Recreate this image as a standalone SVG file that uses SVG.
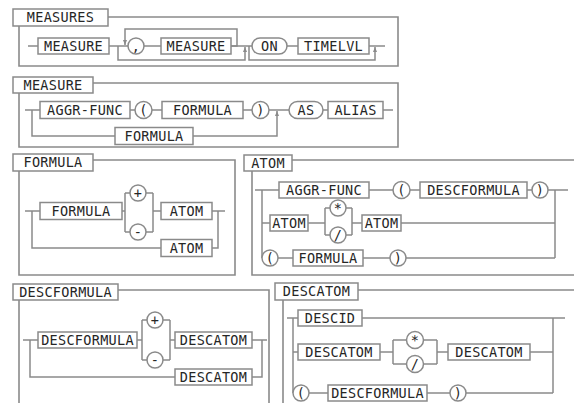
<svg xmlns="http://www.w3.org/2000/svg" width="574" height="403" viewBox="0 0 574 403">
<style>
.b{fill:#fff;stroke:#8a8a8a;stroke-width:1.5}
.t{font-family:"DejaVu Sans Mono","Liberation Mono",monospace;font-size:13.5px;letter-spacing:0.3px;fill:#262626;text-anchor:middle}
.l{fill:none;stroke:#8a8a8a;stroke-width:1.5}
.f{fill:none;stroke:#8a8a8a;stroke-width:1.6}
</style>
<defs>
<marker id="ar" viewBox="0 0 10 10" refX="10" refY="5" markerWidth="5" markerHeight="5" markerUnits="userSpaceOnUse" orient="auto">
<path d="M0,1 L10,5 L0,9 z" fill="#8a8a8a"/>
</marker>
</defs>
<rect width="574" height="403" fill="#fff"/>

<g id="frames">
<path class="f" d="M108,17 H398 V66 H19 V26"/>
<path class="f" d="M93,83 H398 V147 H19 V93"/>
<path class="f" d="M93,160 H235 V275 H19 V171"/>
<path class="f" d="M292,160 H574 M252,171 V275 H574"/>
<path class="f" d="M118,290 H269 V403 M19,300 V403"/>
<path class="f" d="M358,290 H574 M283,300 V403"/>
</g>

<g id="connectors">
<!-- MEASURES -->
<path class="l" d="M28,46 H38 M109,46 H128 M144,46 H161 M231,46 H252 M287,46 H298 M369,46 H385"/>
<path class="l" d="M118,46 V60 H245 V47" marker-end="url(#ar)"/>
<path class="l" d="M231,46 H237 V29 H125 V45" marker-end="url(#ar)"/>
<path class="l" d="M249,46 V60 H375 V47" marker-end="url(#ar)"/>
<!-- MEASURE -->
<path class="l" d="M25,110 H40 M130,110 H135 M152,110 H162 M243,110 H252 M269,110 H289 M323,110 H328 M383,110 H393"/>
<path class="l" d="M32,110 V136 H115 M193,136 H277 V111" marker-end="url(#ar)"/>
<!-- FORMULA -->
<path class="l" d="M25,211 H40 M122,211 H125 M125,193 V232 M125,193 H130 M146,193 H153 M125,232 H130 M146,232 H153 M153,193 V232 M153,211 H161 M212,211 H225 M218,211 V248 H212 M32,211 V248 H161"/>
<!-- ATOM -->
<path class="l" d="M255,190 H279 M369,190 H393 M410,190 H420 M527,190 H532 M548,190 H568 M555,190 V258 M262,190 V258 M262,223 H272 M308,223 H325 M325,208 V235 M325,208 H330 M346,208 H352 M325,235 H330 M346,235 H352 M352,208 V235 M352,223 H363 M400,223 H555 M278,258 H293 M363,258 H390 M406,258 H555"/>
<!-- DESCFORMULA -->
<path class="l" d="M23,340 H38 M137,340 H142 M142,320 V360 M142,320 H147 M163,320 H170 M142,360 H147 M163,360 H170 M170,320 V360 M170,340 H175 M252,340 H267 M262,340 V377 H252 M30,340 V377 H175"/>
<!-- DESCATOM -->
<path class="l" d="M287,318 H298 M362,318 H565 M553,318 V393 M293,318 V393 M293,352 H298 M380,352 H393 M393,340 V364 M393,340 H406.5 M423.5,340 H437 M393,364 H406.5 M423.5,364 H437 M437,340 V364 M437,352 H448 M530,352 H553 M309,393 H328 M427,393 H450 M466,393 H553"/>
</g>

<!-- MEASURES section -->
<g id="title-measures"><rect class="b" x="13" y="9" width="95" height="17"/><text class="t" x="60.5" y="22.3">MEASURES</text></g>
<g id="measures-measure1"><rect class="b" x="38" y="38" width="71" height="16"/><text class="t" x="73.5" y="50.8">MEASURE</text></g>
<g id="measures-comma"><circle class="b" cx="136" cy="46" r="8"/><text class="t" x="136" y="50.8">,</text></g>
<g id="measures-measure2"><rect class="b" x="161" y="38" width="70" height="16"/><text class="t" x="196" y="50.8">MEASURE</text></g>
<g id="measures-on"><rect class="b" x="252" y="38" width="35" height="16" rx="8"/><text class="t" x="269.5" y="50.8">ON</text></g>
<g id="measures-timelvl"><rect class="b" x="298" y="38" width="71" height="16"/><text class="t" x="333.5" y="50.8">TIMELVL</text></g>

<!-- MEASURE section -->
<g id="title-measure"><rect class="b" x="13" y="77" width="80" height="16"/><text class="t" x="53" y="89.8">MEASURE</text></g>
<g id="measure-aggr"><rect class="b" x="40" y="101.5" width="90" height="17"/><text class="t" x="85" y="114.8">AGGR-FUNC</text></g>
<g id="measure-lparen"><circle class="b" cx="143.5" cy="110" r="8.5"/><text class="t" x="143.5" y="114.8">(</text></g>
<g id="measure-formula1"><rect class="b" x="162" y="101.5" width="81" height="17"/><text class="t" x="202.5" y="114.8">FORMULA</text></g>
<g id="measure-rparen"><circle class="b" cx="260.5" cy="110" r="8.5"/><text class="t" x="260.5" y="114.8">)</text></g>
<g id="measure-formula2"><rect class="b" x="115" y="127.5" width="78" height="17"/><text class="t" x="154" y="140.8">FORMULA</text></g>
<g id="measure-as"><rect class="b" x="289" y="101.5" width="34" height="17" rx="8.5"/><text class="t" x="306" y="114.8">AS</text></g>
<g id="measure-alias"><rect class="b" x="328" y="101.5" width="55" height="17"/><text class="t" x="355.5" y="114.8">ALIAS</text></g>

<!-- FORMULA section -->
<g id="title-formula"><rect class="b" x="13" y="154" width="80" height="17"/><text class="t" x="53" y="167.3">FORMULA</text></g>
<g id="formula-formula"><rect class="b" x="40" y="202.5" width="82" height="17"/><text class="t" x="81" y="215.8">FORMULA</text></g>
<g id="formula-plus"><circle class="b" cx="138" cy="193" r="8"/><text class="t" x="138" y="197.8">+</text></g>
<g id="formula-minus"><circle class="b" cx="138" cy="232" r="8"/><text class="t" x="138" y="236.8">-</text></g>
<g id="formula-atom1"><rect class="b" x="161" y="202.5" width="51" height="17"/><text class="t" x="186.5" y="215.8">ATOM</text></g>
<g id="formula-atom2"><rect class="b" x="161" y="239.5" width="51" height="17"/><text class="t" x="186.5" y="252.8">ATOM</text></g>

<!-- ATOM section -->
<g id="title-atom"><rect class="b" x="244" y="155" width="48" height="16"/><text class="t" x="268" y="167.8">ATOM</text></g>
<g id="atom-aggr"><rect class="b" x="279" y="182" width="90" height="16"/><text class="t" x="324" y="194.8">AGGR-FUNC</text></g>
<g id="atom-lparen1"><circle class="b" cx="401.5" cy="190" r="8.5"/><text class="t" x="401.5" y="194.8">(</text></g>
<g id="atom-descformula"><rect class="b" x="420" y="182" width="107" height="16"/><text class="t" x="473.5" y="194.8">DESCFORMULA</text></g>
<g id="atom-rparen1"><circle class="b" cx="540" cy="190" r="8"/><text class="t" x="540" y="194.8">)</text></g>
<g id="atom-atom1"><rect class="b" x="270" y="215" width="38" height="16"/><text class="t" x="289" y="227.8">ATOM</text></g>
<g id="atom-star"><circle class="b" cx="338" cy="208" r="8"/><text class="t" x="338" y="212.8">*</text></g>
<g id="atom-slash"><circle class="b" cx="338" cy="235" r="8"/><text class="t" x="338" y="239.8">/</text></g>
<g id="atom-atom2"><rect class="b" x="362" y="215" width="39" height="16"/><text class="t" x="381.5" y="227.8">ATOM</text></g>
<g id="atom-lparen2"><circle class="b" cx="270" cy="258" r="8"/><text class="t" x="270" y="262.8">(</text></g>
<g id="atom-formula"><rect class="b" x="293" y="250" width="70" height="16"/><text class="t" x="328" y="262.8">FORMULA</text></g>
<g id="atom-rparen2"><circle class="b" cx="398" cy="258" r="8"/><text class="t" x="398" y="262.8">)</text></g>

<!-- DESCFORMULA section -->
<g id="title-descformula"><rect class="b" x="13" y="284" width="105" height="16"/><text class="t" x="65.5" y="296.8">DESCFORMULA</text></g>
<g id="descformula-descformula"><rect class="b" x="38" y="332" width="99" height="16"/><text class="t" x="87.5" y="344.8">DESCFORMULA</text></g>
<g id="descformula-plus"><circle class="b" cx="155" cy="320" r="8"/><text class="t" x="155" y="324.8">+</text></g>
<g id="descformula-minus"><circle class="b" cx="155" cy="360" r="8"/><text class="t" x="155" y="364.8">-</text></g>
<g id="descformula-descatom1"><rect class="b" x="175" y="332" width="77" height="16"/><text class="t" x="213.5" y="344.8">DESCATOM</text></g>
<g id="descformula-descatom2"><rect class="b" x="175" y="369" width="77" height="16"/><text class="t" x="213.5" y="381.8">DESCATOM</text></g>

<!-- DESCATOM section -->
<g id="title-descatom"><rect class="b" x="275" y="283" width="83" height="17"/><text class="t" x="316.5" y="296.3">DESCATOM</text></g>
<g id="descatom-descid"><rect class="b" x="298" y="310" width="64" height="16"/><text class="t" x="330" y="322.8">DESCID</text></g>
<g id="descatom-descatom1"><rect class="b" x="298" y="344" width="82" height="16"/><text class="t" x="339" y="356.8">DESCATOM</text></g>
<g id="descatom-star"><circle class="b" cx="415" cy="340" r="8.5"/><text class="t" x="415" y="344.8">*</text></g>
<g id="descatom-slash"><circle class="b" cx="415" cy="364" r="8.5"/><text class="t" x="415" y="368.8">/</text></g>
<g id="descatom-descatom2"><rect class="b" x="448" y="344" width="82" height="16"/><text class="t" x="489" y="356.8">DESCATOM</text></g>
<g id="descatom-lparen"><circle class="b" cx="301" cy="393" r="8"/><text class="t" x="301" y="397.8">(</text></g>
<g id="descatom-descformula"><rect class="b" x="328" y="385" width="99" height="16"/><text class="t" x="377.5" y="397.8">DESCFORMULA</text></g>
<g id="descatom-rparen"><circle class="b" cx="458" cy="393" r="8"/><text class="t" x="458" y="397.8">)</text></g>
</svg>
